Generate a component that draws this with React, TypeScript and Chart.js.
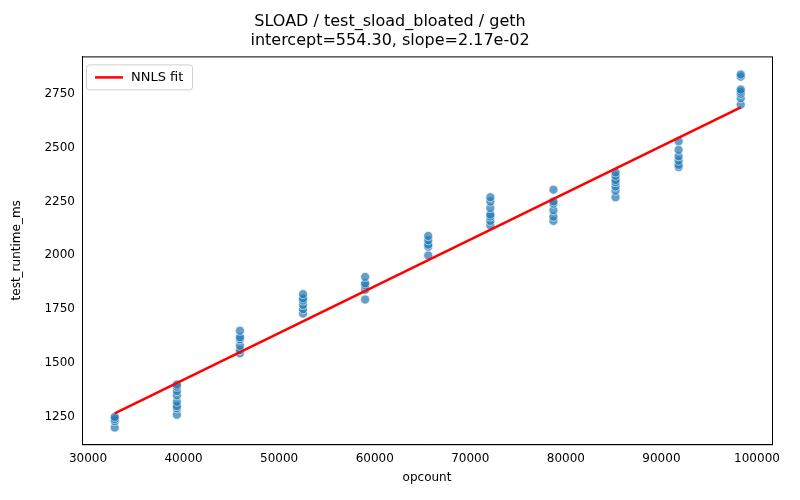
import React, { useEffect, useRef } from "react";
import { Chart, registerables } from "chart.js";
Chart.register(...registerables);

const opcounts = [32800, 39300, 45900, 52500, 59000, 65600, 72100, 78700, 85200, 91800, 98300];
const runtimes: number[][] = [
  [1200, 1230, 1240, 1250],
  [1260, 1290, 1300, 1320, 1350, 1370, 1390, 1400],
  [1545, 1560, 1580, 1610, 1620, 1650],
  [1730, 1750, 1770, 1790, 1800, 1820],
  [1795, 1840, 1860, 1870, 1900],
  [2000, 2040, 2050, 2070, 2090],
  [2140, 2160, 2180, 2190, 2220, 2250, 2270],
  [2160, 2180, 2210, 2240, 2250, 2305],
  [2270, 2300, 2320, 2340, 2350, 2370, 2385],
  [2410, 2420, 2440, 2460, 2490, 2530],
  [2700, 2730, 2750, 2760, 2770, 2830, 2840],
];
const intercept = 554.3;
const slope = 0.0217;
const xTicks = [30000, 40000, 50000, 60000, 70000, 80000, 90000, 100000];
const yTicks = [1250, 1500, 1750, 2000, 2250, 2500, 2750];

const legendPlugin = {
  id: "boxLegend",
  afterDraw(chart: any) {
    const { ctx, chartArea } = chart;
    const x = chartArea.left + 4, y = chartArea.top + 8;
    ctx.save();
    ctx.fillStyle = "rgba(255,255,255,0.8)";
    ctx.strokeStyle = "#d0d0d0";
    ctx.lineWidth = 1;
    ctx.beginPath();
    ctx.roundRect(x + 0.5, y + 0.5, 106, 25, 3);
    ctx.fill();
    ctx.stroke();
    ctx.strokeStyle = "red";
    ctx.lineWidth = 2.5;
    ctx.beginPath();
    ctx.moveTo(x + 9, y + 13);
    ctx.lineTo(x + 37, y + 13);
    ctx.stroke();
    ctx.fillStyle = "#000";
    ctx.font = "13px 'DejaVu Sans'";
    ctx.textBaseline = "middle";
    ctx.fillText("NNLS fit", x + 45, y + 13);
    ctx.restore();
  },
};

export default function App() {
  const ref = useRef<HTMLCanvasElement>(null);
  useEffect(() => {
    const pts: { x: number; y: number }[] = [];
    opcounts.forEach((o, i) => runtimes[i].forEach((v) => pts.push({ x: o, y: v })));
    const x0 = opcounts[0], x1 = opcounts[opcounts.length - 1];
    const font = { family: "'DejaVu Sans'", size: 12 };
    const chart = new Chart(ref.current!, {
      type: "scatter",
      data: {
        datasets: [
          {
            label: "NNLS fit",
            type: "line",
            data: [{ x: x0, y: intercept + slope * x0 }, { x: x1, y: intercept + slope * x1 }],
            borderColor: "red",
            borderWidth: 2.5,
            pointRadius: 0,
          } as any,
          {
            label: "data",
            data: pts,
            backgroundColor: "rgba(31,119,180,0.7)",
            borderColor: "rgba(255,255,255,0.8)",
            borderWidth: 0.7,
            pointRadius: 4.5,
          },
        ],
      },
      options: {
        animation: false,
        responsive: false,
        layout: { padding: { top: 0, right: 28, bottom: 15, left: 8 } },
        plugins: {
          legend: { display: false },
          tooltip: { enabled: false },
          title: {
            display: true,
            text: ["SLOAD / test_sload_bloated / geth", "intercept=554.30, slope=2.17e-02"],
            color: "#000",
            font: { family: "'DejaVu Sans'", size: 16, weight: "normal" as any, lineHeight: 1.2 },
            padding: { top: 12, bottom: 6 },
          },
        },
        scales: {
          x: {
            type: "linear",
            min: 29372,
            max: 101570,
            afterBuildTicks: (s: any) => { s.ticks = xTicks.map((v) => ({ value: v })); },
            ticks: { color: "#000", font, maxRotation: 0, autoSkip: false, callback: (v: any) => String(v) },
            grid: { display: false, drawTicks: true, tickLength: 4, color: "#000" },
            border: { color: "#000" },
            title: { display: true, text: "opcount", color: "#000", font, padding: { top: 2, bottom: 0 } },
          },
          y: {
            min: 1123,
            max: 2924,
            afterBuildTicks: (s: any) => { s.ticks = yTicks.map((v) => ({ value: v })); },
            afterFit: (s: any) => { s.width = 74; },
            ticks: { color: "#000", font, autoSkip: false, callback: (v: any) => String(v) },
            grid: { display: false, drawTicks: true, tickLength: 4, color: "#000" },
            border: { color: "#000" },
            title: { display: true, text: "test_runtime_ms", color: "#000", font, padding: 2 },
          },
        } as any,
      },
      plugins: [
        legendPlugin,
        {
          id: "frame",
          afterDraw(c: any) {
            const { ctx, chartArea: a } = c;
            ctx.save();
            ctx.strokeStyle = "#000";
            ctx.lineWidth = 1;
            ctx.strokeRect(a.left + 0.5, a.top + 0.5, a.right - a.left, a.bottom - a.top);
            ctx.restore();
          },
        },
      ],
    });
    return () => chart.destroy();
  }, []);
  return (
    <div style={{ position: "fixed", left: 0, top: 0, width: 800, height: 500, background: "#fff" }}>
      <canvas ref={ref} width={800} height={500} style={{ width: 800, height: 500 }} />
    </div>
  );
}
